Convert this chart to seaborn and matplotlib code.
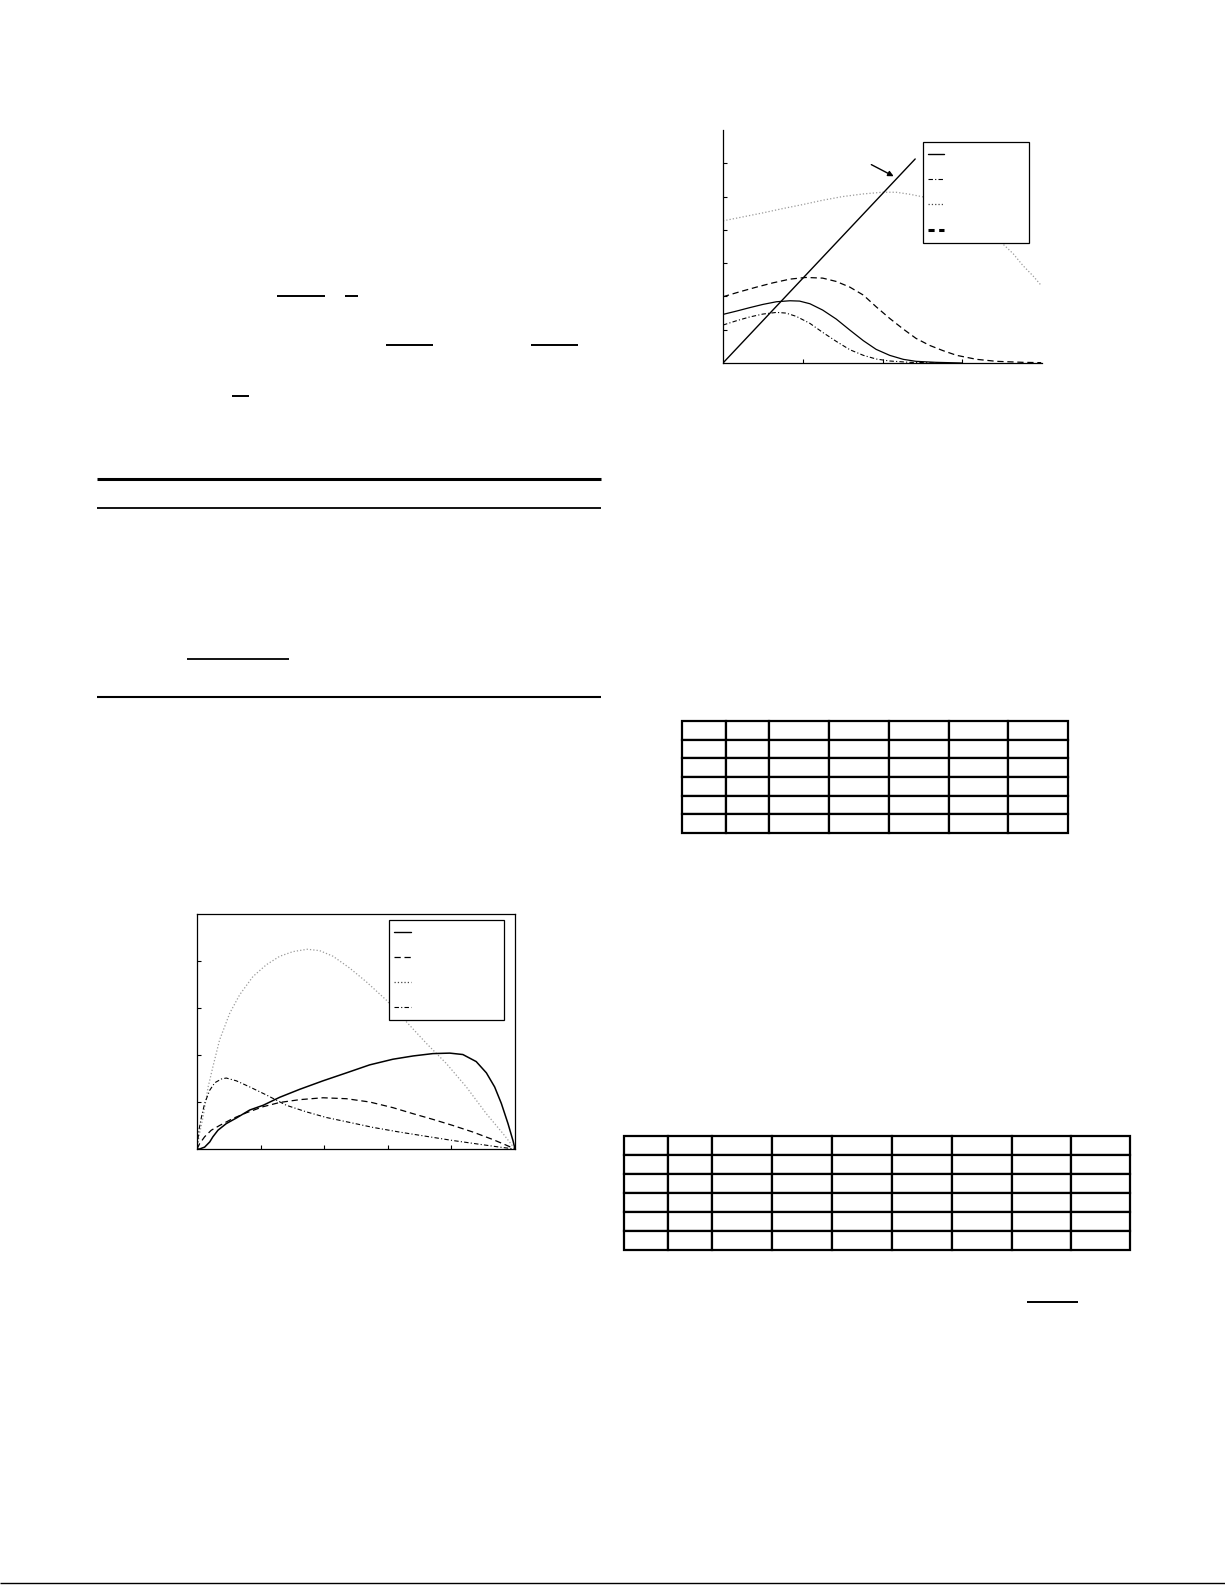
import numpy as np
import pandas as pd
import matplotlib
matplotlib.use("Agg")
import matplotlib.pyplot as plt
from matplotlib.lines import Line2D
import seaborn as sns

# --- page size (pixels at 100 dpi) ---
W, H = 1225, 1585

# --- upper figure: four profiles plus a straight reference line ---
top_solid_x = [0.0, 0.17, 0.33, 0.5, 0.67, 0.84, 0.96, 1.09, 1.25, 1.42, 1.59, 1.76, 1.92, 2.09, 2.26, 2.42, 2.67, 3.0]
top_solid_y = [1.46, 1.56, 1.66, 1.76, 1.84, 1.87, 1.86, 1.78, 1.59, 1.32, 0.99, 0.67, 0.41, 0.23, 0.11, 0.05, 0.02, 0.0]

top_dashdot_x = [0.0, 0.17, 0.33, 0.5, 0.67, 0.79, 0.92, 1.09, 1.25, 1.42, 1.59, 1.76, 1.92, 2.09, 2.34, 2.76]
top_dashdot_y = [1.14, 1.27, 1.38, 1.47, 1.52, 1.5, 1.4, 1.19, 0.92, 0.65, 0.4, 0.23, 0.12, 0.06, 0.02, 0.0]

top_dotted_x = [0.0, 0.25, 0.5, 0.75, 1.0, 1.25, 1.5, 1.76, 2.0, 2.17, 2.34, 2.51, 2.75, 3.0, 3.25, 3.49, 3.64, 3.76, 3.89, 3.99]
top_dotted_y = [4.27, 4.39, 4.51, 4.64, 4.76, 4.89, 5.0, 5.08, 5.13, 5.13, 5.07, 4.99, 4.82, 4.55, 4.15, 3.62, 3.28, 2.93, 2.61, 2.33]

top_dashed_x = [0.0, 0.21, 0.42, 0.63, 0.84, 1.04, 1.25, 1.42, 1.59, 1.76, 1.92, 2.09, 2.26, 2.42, 2.59, 2.76, 2.93, 3.18, 3.43, 3.76, 3.99]
top_dashed_y = [1.99, 2.14, 2.28, 2.41, 2.52, 2.57, 2.55, 2.45, 2.28, 2.04, 1.69, 1.34, 1.02, 0.74, 0.53, 0.37, 0.23, 0.11, 0.05, 0.02, 0.01]

top_line_x = [0.0, 2.41]
top_line_y = [0.0, 6.13]

top_xticks = [1, 2, 3]
top_yticks = [1, 2, 3, 4, 5, 6]

# --- lower figure: four profiles over a unit interval ---
low_solid_x = [0.0, 0.008, 0.024, 0.04, 0.05, 0.066, 0.092, 0.124, 0.166, 0.208, 0.26, 0.323, 0.396, 0.47, 0.543,
               0.616, 0.68, 0.742, 0.795, 0.836, 0.878, 0.91, 0.936, 0.957, 0.978, 0.994, 1.0]
low_solid_y = [0.0, 0.0, 0.04, 0.15, 0.26, 0.4, 0.54, 0.66, 0.83, 0.93, 1.1, 1.27, 1.45, 1.62, 1.79,
               1.91, 1.98, 2.03, 2.04, 2.01, 1.86, 1.62, 1.32, 0.97, 0.54, 0.17, 0.0]

low_dashed_x = [0.0, 0.008, 0.024, 0.045, 0.071, 0.113, 0.155, 0.208, 0.26, 0.323, 0.396, 0.47, 0.543, 0.616,
                0.68, 0.742, 0.805, 0.868, 0.931, 0.973, 1.0]
low_dashed_y = [0.0, 0.11, 0.26, 0.4, 0.5, 0.65, 0.77, 0.9, 0.99, 1.05, 1.09, 1.07, 1.0, 0.88,
                0.75, 0.63, 0.5, 0.36, 0.2, 0.08, 0.0]

low_dotted_x = [0.0, 0.008, 0.019, 0.035, 0.05, 0.071, 0.103, 0.134, 0.176, 0.218, 0.26, 0.302, 0.347, 0.386,
                0.428, 0.48, 0.532, 0.595, 0.658, 0.721, 0.784, 0.847, 0.91, 0.962, 1.0]
low_dotted_y = [0.0, 0.33, 0.68, 1.32, 1.75, 2.32, 2.89, 3.28, 3.67, 3.92, 4.1, 4.2, 4.25, 4.22,
                4.1, 3.85, 3.56, 3.17, 2.71, 2.25, 1.82, 1.32, 0.75, 0.33, 0.0]

low_dashdot_x = [0.0, 0.006, 0.014, 0.024, 0.04, 0.056, 0.077, 0.092, 0.124, 0.166, 0.218, 0.281, 0.344, 0.407,
                 0.47, 0.553, 0.637, 0.721, 0.805, 0.889, 0.952, 1.0]
low_dashdot_y = [0.0, 0.4, 0.68, 0.97, 1.25, 1.41, 1.49, 1.51, 1.45, 1.32, 1.15, 0.93, 0.79, 0.67,
                 0.58, 0.46, 0.36, 0.27, 0.18, 0.1, 0.04, 0.0]

low_xticks = [0.2, 0.4, 0.6, 0.8]
low_yticks = [1, 2, 3, 4]

# --- tables (cell text was blank in the source) ---
table_1_cells = [[""] * 7 for _ in range(6)]
table_2_cells = [[""] * 9 for _ in range(6)]

# --- styles ---
BLACK = "black"
GRAY = "#9a9a9a"
DASHDOT = (0, (4, 2, 1, 2))
DASHED = (0, (5, 3))


def px_rect(left, top, right, bottom):
    return [left / W, 1 - bottom / H, (right - left) / W, (bottom - top) / H]


def rule(fig, x0, x1, y, lw):
    fig.add_artist(Line2D([x0 / W, x1 / W], [1 - y / H, 1 - y / H],
                          transform=fig.transFigure, color=BLACK, lw=lw,
                          solid_capstyle="butt"))


sns.set_theme(style="ticks")
plt.rcParams["font.family"] = ["DejaVu Sans"]

fig = plt.figure(figsize=(W / 100, H / 100), dpi=100)

# ---------------- upper right plot ----------------
ax1 = fig.add_axes(px_rect(723, 130, 1042, 363))
sns.lineplot(x=top_dotted_x, y=top_dotted_y, ax=ax1, color=GRAY, lw=0.9, linestyle=":")
sns.lineplot(x=top_dashed_x, y=top_dashed_y, ax=ax1, color=BLACK, lw=0.9, linestyle=DASHED)
sns.lineplot(x=top_solid_x, y=top_solid_y, ax=ax1, color=BLACK, lw=0.9)
sns.lineplot(x=top_dashdot_x, y=top_dashdot_y, ax=ax1, color=BLACK, lw=0.8, linestyle=DASHDOT)
sns.lineplot(x=top_line_x, y=top_line_y, ax=ax1, color=BLACK, lw=1.0)
ax1.annotate("", xy=(2.14, 5.61), xytext=(1.86, 5.96),
             arrowprops=dict(arrowstyle="-|>", color=BLACK, lw=1.0, mutation_scale=8,
                             shrinkA=0, shrinkB=0))
ax1.set_xlim(0, 4)
ax1.set_ylim(0, 7)
ax1.set_xticks(top_xticks)
ax1.set_yticks(top_yticks)
ax1.set_xticklabels([])
ax1.set_yticklabels([])
ax1.set_xlabel("")
ax1.set_ylabel("")
ax1.tick_params(direction="in", length=3, width=0.8, color=BLACK)
for side in ["top", "right"]:
    ax1.spines[side].set_visible(False)
for side in ["left", "bottom"]:
    ax1.spines[side].set_color(BLACK)
    ax1.spines[side].set_linewidth(0.9)

h1 = [Line2D([], [], color=BLACK, lw=1.0),
      Line2D([], [], color=BLACK, lw=0.8, linestyle=DASHDOT),
      Line2D([], [], color="#444444", lw=0.9, linestyle=":"),
      Line2D([], [], color=BLACK, lw=2.2, linestyle=(0, (2, 1.5)))]
leg1 = ax1.legend(h1, [" "] * 4, loc="upper left", bbox_to_anchor=(0.627, 0.519, 0.332, 0.429),
                  mode="expand", borderaxespad=0, fontsize=10, handlelength=1.15,
                  labelspacing=0.82, borderpad=0.38, fancybox=False, framealpha=1,
                  edgecolor=BLACK)
leg1.get_frame().set_linewidth(0.9)

# ---------------- lower left plot ----------------
ax2 = fig.add_axes(px_rect(197, 914, 515, 1149))
sns.lineplot(x=low_dotted_x, y=low_dotted_y, ax=ax2, color=GRAY, lw=0.9, linestyle=":")
sns.lineplot(x=low_dashed_x, y=low_dashed_y, ax=ax2, color=BLACK, lw=0.9, linestyle=DASHED)
sns.lineplot(x=low_dashdot_x, y=low_dashdot_y, ax=ax2, color=BLACK, lw=0.8, linestyle=DASHDOT)
sns.lineplot(x=low_solid_x, y=low_solid_y, ax=ax2, color=BLACK, lw=1.1)
ax2.set_xlim(0, 1)
ax2.set_ylim(0, 5)
ax2.set_xticks(low_xticks)
ax2.set_yticks(low_yticks)
ax2.set_xticklabels([])
ax2.set_yticklabels([])
ax2.set_xlabel("")
ax2.set_ylabel("")
ax2.tick_params(direction="in", length=3, width=0.8, color=BLACK)
for side in ax2.spines:
    ax2.spines[side].set_color(BLACK)
    ax2.spines[side].set_linewidth(0.9)

h2 = [Line2D([], [], color=BLACK, lw=1.0),
      Line2D([], [], color=BLACK, lw=0.9, linestyle=DASHED),
      Line2D([], [], color="#444444", lw=0.9, linestyle=":"),
      Line2D([], [], color=BLACK, lw=0.8, linestyle=DASHDOT)]
leg2 = ax2.legend(h2, [" "] * 4, loc="upper left", bbox_to_anchor=(0.604, 0.545, 0.361, 0.429),
                  mode="expand", borderaxespad=0, fontsize=10, handlelength=1.2,
                  labelspacing=0.8, borderpad=0.38, fancybox=False, framealpha=1,
                  edgecolor=BLACK)
leg2.get_frame().set_linewidth(0.9)

# ---------------- tables ----------------
def draw_table(rect, cells, col_px):
    ax = fig.add_axes(rect)
    ax.axis("off")
    total = sum(col_px)
    tab = ax.table(cellText=cells, colWidths=[c / total for c in col_px],
                   bbox=[0, 0, 1, 1], cellLoc="center")
    for cell in tab.get_celld().values():
        cell.set_linewidth(1.6)
        cell.set_edgecolor(BLACK)
    return tab

draw_table(px_rect(682, 721, 1068, 833), table_1_cells, [44, 43, 60, 60, 60, 59, 60])
draw_table(px_rect(624, 1136, 1130, 1250), table_2_cells, [44, 44, 59, 60, 60, 60, 59, 59, 59])

# ---------------- page rules ----------------
rule(fig, 97, 601, 479, 2.2)
rule(fig, 97, 601, 508, 1.3)
rule(fig, 187, 289, 659, 1.3)
rule(fig, 97, 601, 697, 1.5)
rule(fig, 277, 325, 296, 1.4)
rule(fig, 345, 358, 296, 1.4)
rule(fig, 386, 433, 345, 1.4)
rule(fig, 531, 578, 345, 1.4)
rule(fig, 232, 249, 396, 1.4)
rule(fig, 1027, 1078, 1302, 1.4)
rule(fig, 0, 1225, 1583, 1.0)

fig.savefig("out.png", dpi=100, facecolor="white")
